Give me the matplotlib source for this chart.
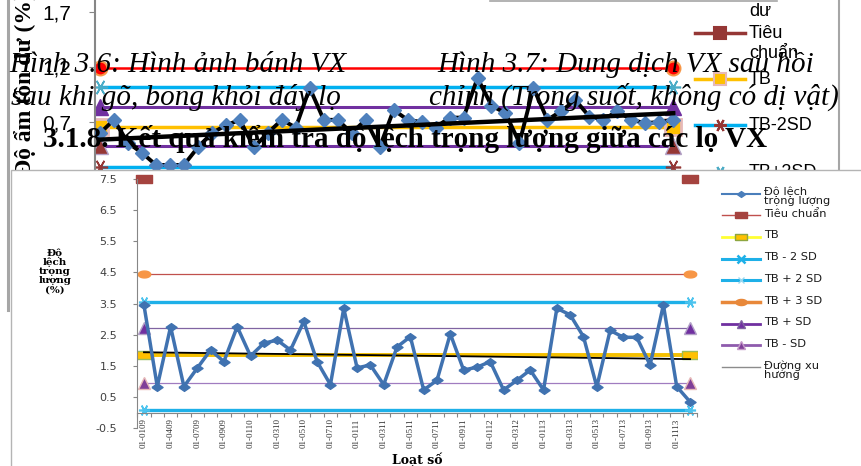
import matplotlib
matplotlib.use('Agg')  # без GUI

import matplotlib.pyplot as plt
from matplotlib.patches import Rectangle
import numpy as np

W, H = 861, 466

# ---- Độ lệch trọng lượng giữa các lọ (biểu đồ dưới)
lot_labels = ['01-0109', '01-0409', '01-0709', '01-0909', '01-0110', '01-0310', '01-0510',
              '01-0710', '01-0111', '01-0311', '01-0511', '01-0711', '01-0911', '01-0112',
              '01-0312', '01-0113', '01-0313', '01-0513', '01-0713', '01-0913', '01-1113']
weight_dev = [3.45, 0.84, 2.76, 0.84, 1.43, 2.01, 1.64, 2.76, 1.82, 2.23, 2.33, 2.01, 2.93, 1.64,
              0.90, 3.35, 1.44, 1.53, 0.90, 2.11, 2.44, 0.73, 1.04, 2.53, 1.37, 1.46, 1.64, 0.73,
              1.04, 1.37, 0.73, 3.35, 3.14, 2.44, 0.83, 2.64, 2.42, 2.42, 1.53, 3.46, 0.84, 0.35]
standard = 7.5
tb = 1.85
tb_plus_sd = 2.71
tb_minus_sd = 0.96
tb_plus_2sd = 3.56
tb_minus_2sd = 0.10
tb_plus_3sd = 4.44
trend_ends = [1.94, 1.72]

# ---- Độ ẩm tồn dư (biểu đồ phía trên, chỉ thấy phần dưới)
moisture = [0.60, 0.72, 0.51, 0.42, 0.31, 0.31, 0.31, 0.47, 0.60, 0.67, 0.72, 0.47, 0.60, 0.72,
            0.65, 1.01, 0.72, 0.72, 0.60, 0.72, 0.47, 0.81, 0.72, 0.70, 0.65, 0.74, 0.74, 1.10,
            0.85, 0.78, 0.51, 1.01, 0.72, 0.80, 0.90, 0.75, 0.72, 0.80, 0.72, 0.69, 0.70, 0.72]
m_red = 1.19
m_plus_2sd = 1.02
m_plus_sd = 0.84
m_tb = 0.655
m_minus_sd = 0.48
m_minus_2sd = 0.29
m_trend = [0.54, 0.78]
m_ticks = [0.7, 1.2, 1.7]

SERIF = 'Liberation Serif'
SANS = 'DejaVu Sans'

rect_marker = [(-1, -0.55), (1, -0.55), (1, 0.55), (-1, 0.55), (-1, -0.55)]
flat_diamond = [(-1, 0), (0, 0.7), (1, 0), (0, -0.7), (-1, 0)]
t = np.linspace(0, 2 * np.pi, 30)
ellipse_marker = list(zip(np.cos(t), 0.55 * np.sin(t)))
star = (6, 2, 90)


def box(x0, y0, x1, y1):
    return [x0 / W, 1 - y1 / H, (x1 - x0) / W, (y1 - y0) / H]


fig = plt.figure(figsize=(W / 100, H / 100), dpi=100)

# ================= biểu đồ trên =================
ax_top = fig.add_axes(box(95, 0, 690, 170), zorder=1)
n_top = len(moisture)
xt = np.arange(n_top)
ends = [0, n_top - 1]
ax_top.set_xlim(-0.36, 42.2)
ax_top.set_ylim(0.264, 1.809)

ax_top.plot(xt, [m_red] * n_top, color='#FF0000', lw=1.8, marker='o', ms=10,
            mfc='#FF0000', mec='#F79646', mew=1.5, markevery=ends)
ax_top.plot(xt, [m_plus_2sd] * n_top, color='#00B0F0', lw=2.5, marker=star, ms=11,
            mec='#4BACC6', mew=1.2, markevery=ends)
ax_top.plot(xt, [m_plus_sd] * n_top, color='#7030A0', lw=2.2, marker='^', ms=11,
            mfc='#7030A0', mec='#7030A0', markevery=ends)
ax_top.plot(xt, [m_tb] * n_top, color='#FFC000', lw=2.5, marker='s', ms=12,
            mfc='#FFC000', mec='#E6B9B8', mew=2, markevery=ends)
ax_top.plot(xt, [m_minus_sd] * n_top, color='#7030A0', lw=2.2, marker='^', ms=11,
            mfc='#953735', mec='#B3A2C7', markevery=ends)
ax_top.plot(xt, [m_minus_2sd] * n_top, color='#00B0F0', lw=2.5, marker=star, ms=11,
            mec='#953735', mew=1.2, markevery=ends)
ax_top.plot(xt, moisture, color='black', lw=2.8, marker='D', ms=7.5,
            mfc='#4F81BD', mec='#4F81BD', zorder=4)
ax_top.plot([0, n_top - 1], m_trend, color='black', lw=3.2, zorder=5)

for s in ['top', 'right', 'bottom']:
    ax_top.spines[s].set_visible(False)
ax_top.spines['left'].set_color('#868686')
ax_top.spines['left'].set_linewidth(1.5)
ax_top.set_xticks([])
ax_top.set_yticks(m_ticks)
ax_top.set_yticklabels([f'{v:.1f}'.replace('.', ',') for v in m_ticks],
                       fontsize=15, family='Liberation Sans')
ax_top.tick_params(axis='y', length=4, color='#868686', pad=13)
ax_top.patch.set_visible(False)

# ================= trang: chú thích, tiêu đề, khung =================
page = fig.add_axes([0, 0, 1, 1], zorder=2)
page.set_xlim(0, W)
page.set_ylim(H, 0)
page.axis('off')

page.plot([8, 8], [0, 310], color='#A6A6A6', lw=2.2, zorder=2)
page.plot([839, 839], [0, 170], color='#A6A6A6', lw=1.5, zorder=2)
page.plot([490, 777], [0.5, 0.5], color='#A6A6A6', lw=1.2, zorder=2)

page.text(25, 176, 'Độ ẩm tồn dư (%)', rotation=90, rotation_mode='anchor',
          ha='left', va='center', fontsize=17, fontweight='bold', family=SERIF, zorder=3)

# chú giải của biểu đồ trên
page.text(749, 3, 'dư', ha='left', va='top', fontsize=13, family='Liberation Sans', zorder=3)
top_leg = [('Tiêu\nchuẩn', 33, '#953735', 's', '#953735', '#953735'),
           ('TB', 79, '#FFC000', 's', '#FFC000', '#E6B9B8'),
           ('TB-2SD', 125, '#00B0F0', star, 'none', '#953735'),
           ('TB+2SD', 172, '#00B0F0', star, 'none', '#4BACC6')]
for lab, yy, col, mk, fc, ec in top_leg:
    page.plot([695, 745], [yy, yy], color=col, lw=2.5, zorder=3)
    page.plot([720], [yy], marker=mk, ms=9, mfc=fc, mec=ec, mew=1.5, ls='none', zorder=3)
    page.text(749, yy - 8, lab, ha='left', va='top', fontsize=13, linespacing=1.2,
              family='Liberation Sans', zorder=3)

cap_kw = dict(fontsize=21, fontstyle='italic', family=SERIF, va='baseline', zorder=4)
page.text(9, 72, 'Hình 3.6: Hình ảnh bánh VX', ha='left', **cap_kw)
page.text(437, 72, 'Hình 3.7: Dung dịch VX sau hồi', ha='left', **cap_kw)
page.text(11, 105, 'sau khi gõ, bong khỏi đáy lọ', ha='left', **cap_kw)
page.text(839, 105, 'chỉnh (Trong suốt, không có dị vật)', ha='right', **cap_kw)
page.text(43, 147, '3.1.8. Kết quả kiểm tra độ lệch trọng lượng giữa các lọ VX',
          ha='left', va='baseline', fontsize=21, fontweight='bold', family=SERIF, zorder=4)

# khung biểu đồ dưới
page.add_patch(Rectangle((11, 169.5), 880, 320, facecolor='white',
                         edgecolor='#B4B4B4', lw=1, zorder=5))

# chú giải của biểu đồ dưới
bot_leg = [
    ('Độ lệch\ntrọng lượng', dict(color='#4A7EBB', lw=1.5, marker=flat_diamond, ms=6,
                                  mfc='#4A7EBB', mec='#4A7EBB')),
    ('Tiêu chuẩn', dict(color='#C0504D', lw=1, marker=rect_marker, ms=9,
                        mfc='#A5433F', mec='#A5433F')),
    ('TB', dict(color='#FFFF33', lw=2, marker=rect_marker, ms=9,
                mfc='#FFC000', mec='#8EA640', mew=1)),
    ('TB - 2 SD', dict(color='#1EB0E8', lw=2.2, marker='x', ms=6, mec='#1EB0E8', mew=1.8)),
    ('TB + 2 SD', dict(color='#1EB0E8', lw=2.2, marker='x', ms=5, mec='#9AD8F0', mew=1)),
    ('TB + 3 SD', dict(color='#E8883A', lw=2.5, marker=ellipse_marker, ms=8,
                       mfc='#E8883A', mec='#E8883A')),
    ('TB + SD', dict(color='#7030A0', lw=2, marker='^', ms=6, mfc='#7030A0', mec='#8064A2')),
    ('TB - SD', dict(color='#8E5BAD', lw=2, marker='^', ms=6, mfc='#7F3F98', mec='#C59AC9')),
    ('Đường xu\nhướng', dict(color='#8C8C8C', lw=1)),
]
for k, (lab, kw) in enumerate(bot_leg):
    yy = 193.5 + 21.7 * k
    page.plot([722, 760], [yy, yy], zorder=6, **{key: v for key, v in kw.items()
                                                  if key in ('color', 'lw')})
    if 'marker' in kw:
        page.plot([741], [yy], ls='none', zorder=7,
                  **{key: v for key, v in kw.items() if key not in ('color', 'lw')})
    page.text(764, yy - 6.5, lab, ha='left', va='top', fontsize=8.2, linespacing=0.85,
              family=SANS, color='#1A1A1A', zorder=7)

# ================= biểu đồ dưới =================
ax = fig.add_axes(box(137.3, 179, 696.7, 428.3), zorder=3)
ax.patch.set_visible(False)
n = len(weight_dev)
x = np.arange(n)
ends = [0, n - 1]
ax.set_xlim(-0.5, n - 0.5)
ax.set_ylim(-0.5, 7.5)

ax.plot(x, [standard] * n, ls='none', marker=rect_marker, ms=11, mfc='#A5433F',
        mec='#A5433F', markevery=ends, clip_on=False, zorder=2)
ax.plot(x, [tb_plus_3sd] * n, color='#C0504D', lw=0.9, marker=ellipse_marker, ms=9,
        mfc='#F79646', mec='#F79646', markevery=ends, zorder=2)
ax.plot(x, [tb_plus_2sd] * n, color='#1EB0E8', lw=2.4, marker=star, ms=8,
        mec='#4BC3EE', mew=1.2, markevery=ends, zorder=2)
ax.plot(x, [tb_minus_2sd] * n, color='#1EB0E8', lw=2.4, marker=star, ms=8,
        mec='#4BC3EE', mew=1.2, markevery=ends, zorder=2)
ax.plot(x, [tb_plus_sd] * n, color='#8064A2', lw=0.9, marker='^', ms=8,
        mfc='#7030A0', mec='#B3A2C7', markevery=ends, zorder=2)
ax.plot(x, [tb_minus_sd] * n, color='#A07CC0', lw=0.9, marker='^', ms=8,
        mfc='#7F3F98', mec='#E6B9B8', markevery=ends, zorder=2)
ax.plot(x, [tb] * n, color='#F5C000', lw=2.8, marker=rect_marker, ms=11,
        mfc='#FFC000', mec='#9BBB59', mew=1, markevery=ends, zorder=2.5)
ax.plot([0, n - 1], trend_ends, color='black', lw=1.3, zorder=3)
ax.plot(x, weight_dev, color='#4072B0', lw=2.5, marker=flat_diamond, ms=8,
        mfc='#4072B0', mec='#4072B0', zorder=4)

for s in ['top', 'right']:
    ax.spines[s].set_visible(False)
ax.spines['left'].set_color('#868686')
ax.spines['bottom'].set_position(('data', 0))
ax.spines['bottom'].set_color('#868686')

ax.set_yticks(np.arange(-0.5, 7.6, 1.0))
ax.set_yticklabels([f'{v:.1f}' for v in np.arange(-0.5, 7.6, 1.0)],
                   fontsize=8, family=SANS, color='#404040')
ax.tick_params(axis='y', length=3, color='#868686', pad=11.5)

ax.set_xticks(np.arange(-0.5, n, 1.0))
ax.set_xticklabels([])
ax.tick_params(axis='x', which='major', length=3, color='#868686')
ax.set_xticks(np.arange(0, n, 2), minor=True)
ax.set_xticklabels(lot_labels, minor=True, rotation=90, fontsize=6.5,
                   family=SERIF, color='#333333')
ax.tick_params(axis='x', which='minor', length=0, pad=4)

ax.set_xlabel('Loạt số', fontsize=9, fontweight='bold', family='DejaVu Serif')
ax.xaxis.set_label_coords(0.5, -0.098)
ax.set_ylabel('Độ\nlệch\ntrọng\nlượng\n(%)', rotation=0, fontsize=7.5, fontweight='bold',
              family='DejaVu Serif', linespacing=1.0, ha='center', va='center')
ax.yaxis.set_label_coords(-0.147, 0.63)

plt.savefig('out.png', dpi=100)
